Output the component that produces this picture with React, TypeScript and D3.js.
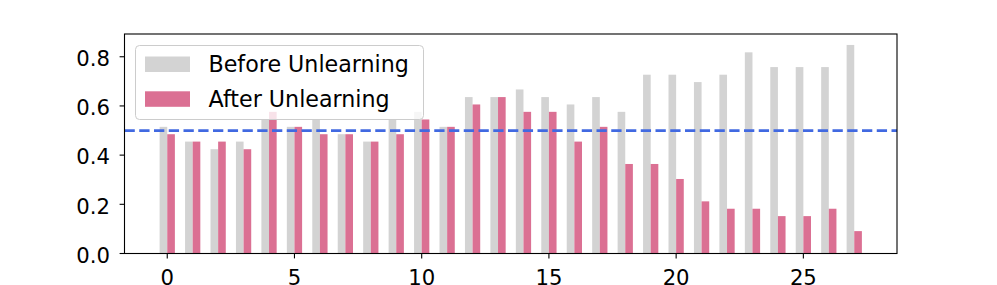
import { FC, useEffect } from "react";
import * as d3 from "d3";

// accuracy per layer
const layers = [
  0, 1, 2, 3, 4, 5, 6, 7, 8, 9, 10, 11, 12, 13, 14, 15, 16, 17, 18, 19, 20, 21,
  22, 23, 24, 25, 26, 27,
];
const beforeValues = [
  0.515, 0.455, 0.424, 0.455, 0.545, 0.515, 0.545, 0.485, 0.455, 0.545, 0.576,
  0.515, 0.636, 0.636, 0.667, 0.636, 0.606, 0.636, 0.576, 0.727, 0.727, 0.697,
  0.727, 0.818, 0.758, 0.758, 0.758, 0.848,
];
const afterValues = [
  0.485, 0.455, 0.455, 0.424, 0.576, 0.515, 0.485, 0.485, 0.455, 0.485, 0.545,
  0.515, 0.606, 0.636, 0.576, 0.576, 0.455, 0.515, 0.364, 0.364, 0.303, 0.212,
  0.182, 0.182, 0.152, 0.152, 0.182, 0.091,
];
const yTicks = [0.0, 0.2, 0.4, 0.6, 0.8];
const xTicks = [0, 5, 10, 15, 20, 25];
const legendLabels = ["Before Unlearning", "After Unlearning"];
const threshold = 0.5;

const W = 997;
const H = 285;
const margin = { left: 124.5, right: 100, top: 34, bottom: 31.5 };
const barW = 0.3;
const colors = ["#d3d3d3", "#db7093"];
const font = "DejaVu Sans, sans-serif";
const fontSize = 21.2;

const App: FC = () => {
  useEffect(() => {
    document.body.style.margin = "0";
  }, []);

  const x = d3
    .scaleLinear()
    .domain([-1.68, 28.68])
    .range([margin.left, W - margin.right]);
  const y = d3
    .scaleLinear()
    .domain([0, 0.8925])
    .range([H - margin.bottom, margin.top]);

  const x0 = x.range()[0];
  const x1 = x.range()[1];
  const y0 = y.range()[0];
  const y1 = y.range()[1];

  return (
    <svg width={W} height={H} style={{ display: "block" }} fontFamily={font}>
      <rect width={W} height={H} fill="white" />

      {/* bars */}
      {layers.map((l, i) => (
        <g key={l}>
          <rect
            x={x(l - barW)}
            y={y(beforeValues[i])}
            width={x(barW) - x(0)}
            height={y0 - y(beforeValues[i])}
            fill={colors[0]}
          />
          <rect
            x={x(l)}
            y={y(afterValues[i])}
            width={x(barW) - x(0)}
            height={y0 - y(afterValues[i])}
            fill={colors[1]}
          />
        </g>
      ))}

      {/* threshold line */}
      <line
        x1={x0}
        x2={x1}
        y1={y(threshold)}
        y2={y(threshold)}
        stroke="#4169e1"
        strokeWidth={2.78}
        strokeDasharray="10.3 4.45"
      />

      {/* legend */}
      <g>
        <rect
          x={135.5}
          y={45.5}
          width={288}
          height={74}
          rx={4}
          fill="white"
          fillOpacity={0.8}
          stroke="#cccccc"
          strokeWidth={1}
        />
        {legendLabels.map((lab, i) => (
          <g key={lab} transform={`translate(0, ${i * 34.8})`}>
            <rect x={145} y={56.5} width={45} height={15.5} fill={colors[i]} />
            <text x={208.5} y={72.3} fontSize={22.2} fill="black">
              {lab}
            </text>
          </g>
        ))}
      </g>

      {/* axes frame */}
      <rect
        x={x0}
        y={y1}
        width={x1 - x0}
        height={y0 - y1}
        fill="none"
        stroke="black"
        strokeWidth={1.1}
      />

      {/* y ticks */}
      {yTicks.map((t) => (
        <g key={t}>
          <line x1={x0 - 4.9} x2={x0} y1={y(t)} y2={y(t)} stroke="black" strokeWidth={1.1} />
          <text
            x={x0 - 14.5}
            y={y(t) + 9.3}
            textAnchor="end"
            fontSize={fontSize}
            fill="black"
          >
            {t.toFixed(1)}
          </text>
        </g>
      ))}

      {/* x ticks */}
      {xTicks.map((t) => (
        <g key={t}>
          <line x1={x(t)} x2={x(t)} y1={y0} y2={y0 + 4.9} stroke="black" strokeWidth={1.1} />
          <text x={x(t)} y={y0 + 31} textAnchor="middle" fontSize={fontSize} fill="black">
            {t}
          </text>
        </g>
      ))}
    </svg>
  );
};

export default App;
